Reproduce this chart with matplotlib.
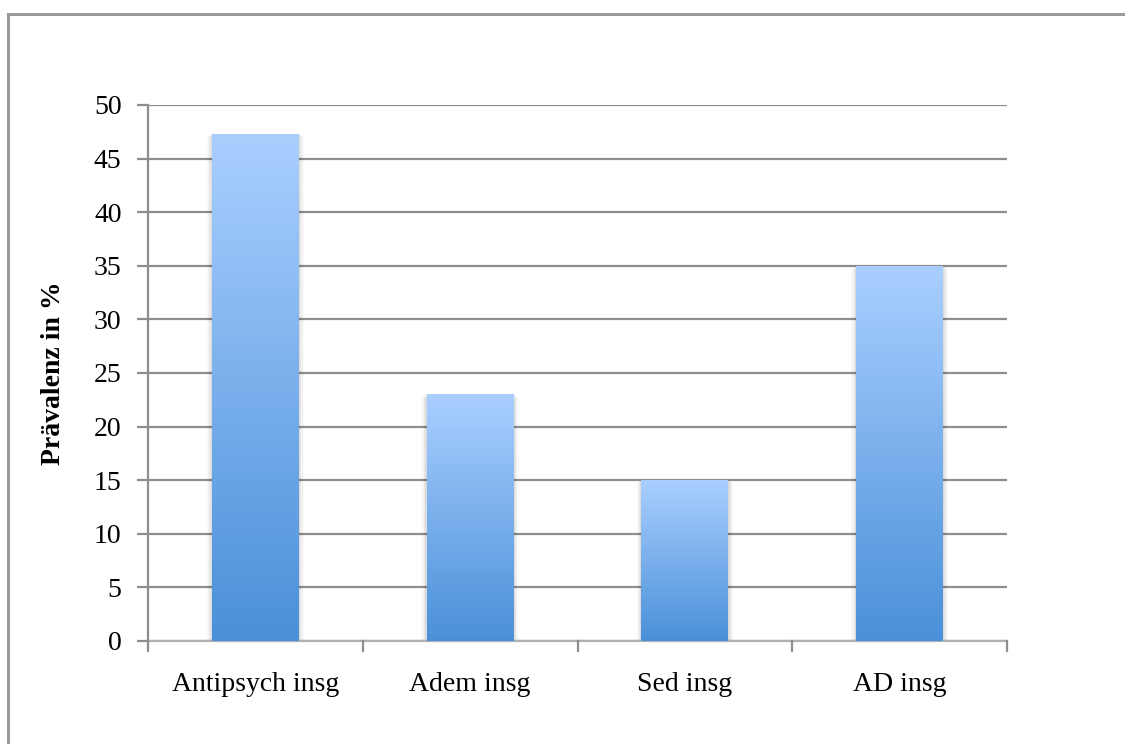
import numpy as np
import matplotlib
matplotlib.use("Agg")
import matplotlib.pyplot as plt
from matplotlib.patches import Rectangle
from matplotlib.colors import LinearSegmentedColormap

categories = ["Antipsych insg", "Adem insg", "Sed insg", "AD insg"]
prevalence = [47.3, 23.0, 15.0, 35.0]
y_ticks = [0, 5, 10, 15, 20, 25, 30, 35, 40, 45, 50]
y_label = "Prävalenz in %"

plt.rcParams["font.family"] = ["Liberation Serif", "DejaVu Serif"]

fig = plt.figure(figsize=(11.25, 7.44), dpi=100)
fig.patch.set_facecolor("white")

# outer chart frame (top and left edges visible)
frame = Rectangle((8 / 1125, -0.05), 1.2, 1 - 14 / 744 + 0.05,
                  transform=fig.transFigure, fill=False,
                  edgecolor="#9a9a9a", linewidth=2.2, zorder=0)
fig.patches.append(frame)

ax = fig.add_axes([148 / 1125, 1 - 641 / 744, (1007 - 148) / 1125, (641 - 105) / 744])

grid_col = "#8e8e8e"
fs = 20
ax.set_ylim(0, 50)
ax.set_xlim(-0.5, len(categories) - 0.5)
ax.set_yticks(y_ticks)
ax.set_yticklabels([str(t) for t in y_ticks], fontsize=fs)
ax.yaxis.grid(True, color=grid_col, linewidth=1.6)
ax.set_axisbelow(True)

for s in ["top", "right"]:
    ax.spines[s].set_visible(False)
ax.spines["left"].set_color(grid_col)
ax.spines["left"].set_linewidth(1.6)
ax.spines["bottom"].set_color("#b0b0b0")
ax.spines["bottom"].set_linewidth(1.6)

ax.set_xticks(np.arange(len(categories)))
ax.set_xticklabels(categories, fontsize=fs)
ax.tick_params(axis="x", length=0, pad=22)
ax.tick_params(axis="y", length=8, color=grid_col, width=1.6, pad=11)

# category separator ticks below the axis
for b in np.arange(-0.5, len(categories), 1.0):
    ax.plot([b, b], [0, -0.9], color=grid_col, lw=1.6, clip_on=False, zorder=3)

ax.set_ylabel(y_label, fontsize=fs, fontweight="bold", labelpad=20)

cmap = LinearSegmentedColormap.from_list("bar_grad", ["#4a90d9", "#aacfff"])
grad = np.linspace(0, 1, 256).reshape(-1, 1)
width = 0.405

for i, v in enumerate(prevalence):
    x0 = i - width / 2
    # soft shadow along the bar sides
    for k, a in enumerate([0.05, 0.04, 0.03, 0.02]):
        pad = 0.006 * (k + 1)
        ax.add_patch(Rectangle((x0 - pad, 0), width + 2 * pad, v - 0.1 * k,
                               facecolor="black", alpha=a, edgecolor="none", zorder=2))
    rect = Rectangle((x0, 0), width, v, facecolor="none", edgecolor="none", zorder=3)
    ax.add_patch(rect)
    im = ax.imshow(grad, extent=[x0, x0 + width, 0, v], origin="lower",
                   cmap=cmap, aspect="auto", zorder=3, interpolation="bilinear")
    im.set_clip_path(rect)

ax.set_xlim(-0.5, len(categories) - 0.5)
ax.set_ylim(0, 50)

fig.savefig("out.png", dpi=100, facecolor="white")
